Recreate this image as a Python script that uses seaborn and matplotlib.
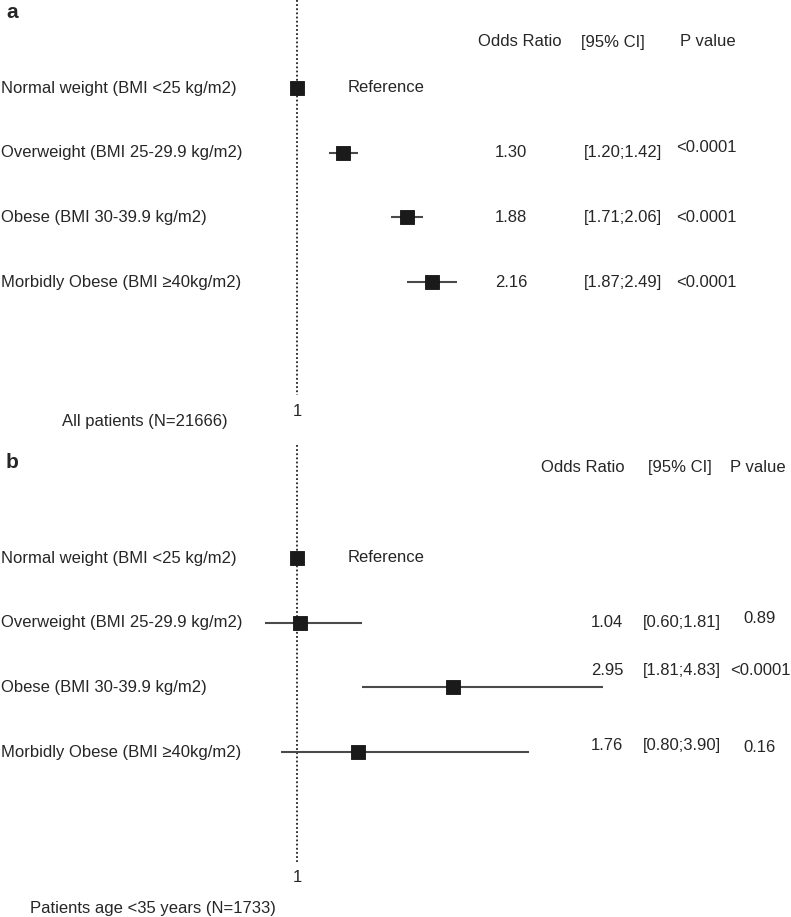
import numpy as np
import pandas as pd
import seaborn as sns
import matplotlib.pyplot as plt

# rows of the forest plot (same for both panels)
categories = [
    "Normal weight (BMI <25 kg/m2)",
    "Overweight (BMI 25-29.9 kg/m2)",
    "Obese (BMI 30-39.9 kg/m2)",
    "Morbidly Obese (BMI \u226540kg/m2)",
]

# panel a: all patients
or_a = [1.00, 1.30, 1.88, 2.16]
lo_a = [1.00, 1.20, 1.71, 1.87]
hi_a = [1.00, 1.42, 2.06, 2.49]
p_a = ["", "<0.0001", "<0.0001", "<0.0001"]
title_a = "All patients (N=21666)"

# panel b: patients younger than 35
or_b = [1.00, 1.04, 2.95, 1.76]
lo_b = [1.00, 0.60, 1.81, 0.80]
hi_b = [1.00, 1.81, 4.83, 3.90]
p_b = ["", "0.89", "<0.0001", "0.16"]
title_b = "Patients age <35 years (N=1733)"

sns.set_theme(style="white")
plt.rcParams["font.family"] = ["Liberation Sans", "DejaVu Sans"]

W, H = 791, 917
fig = plt.figure(figsize=(W / 100, H / 100), dpi=100)
PX1 = 297  # pixel column of OR = 1
FS = 12


def draw_panel(ax, letter, ors, los, his, pvals, footer, scale, k, row0_px, top_px,
               bot_px, letter_px, head_dy, col_x, txt_dy, p_dy, line_end, foot_x,
               foot_gap):
    step = 64.7
    to_row = lambda px: (px - row0_px) / step
    fx = lambda px: px / W
    if scale == "log":
        ax.set_xscale("log")
        xlim = (np.exp(-PX1 / k), np.exp((W - PX1) / k))
    else:
        xlim = (1 - PX1 / k, 1 + (W - PX1) / k)
    ylim = (to_row(bot_px), to_row(top_px))
    tr = ax.get_yaxis_transform()

    df = pd.DataFrame({"label": categories, "OR": ors, "lo": los, "hi": his,
                       "row": np.arange(len(categories))})

    ax.vlines(1, to_row(top_px), to_row(line_end), color="#222222",
              linestyle=(0, (1, 1.3)), lw=1.3, zorder=1)
    ax.hlines(df["row"], df["lo"], df["hi"], color="#4a4a4a", lw=1.5, zorder=2)
    sns.scatterplot(data=df, x="OR", y="row", marker="s", s=95, color="#1a1a1a",
                    edgecolor="#111111", linewidth=0.6, zorder=3, ax=ax, legend=False)
    ax.set_xlim(*xlim)
    ax.set_ylim(*ylim)
    ax.axis("off")

    ax.text(fx(6), to_row(letter_px), letter, transform=tr, fontsize=15,
            fontweight="bold", ha="left", va="center")
    for i, lab in enumerate(categories):
        ax.text(fx(1), i, lab, transform=tr, fontsize=FS, ha="left", va="center")
    ax.text(fx(348), 0, "Reference", transform=tr, fontsize=FS, ha="left", va="center")

    hy = to_row(row0_px + head_dy)
    for x, h in zip(col_x[:3], ["Odds Ratio", "[95% CI]", "P value"]):
        ax.text(fx(x), hy, h, transform=tr, fontsize=FS, ha="center", va="center")
    for i in range(1, len(ors)):
        y = i + txt_dy[i] / step
        ax.text(fx(col_x[3]), y, f"{ors[i]:.2f}", transform=tr, fontsize=FS,
                ha="center", va="center")
        ax.text(fx(col_x[4]), y, f"[{los[i]:.2f};{his[i]:.2f}]", transform=tr,
                fontsize=FS, ha="center", va="center")
        ax.text(fx(col_x[5]), y + p_dy[i] / step, pvals[i], transform=tr,
                fontsize=FS, ha="center", va="center")

    ax.text(1, to_row(line_end + 16), "1", fontsize=FS, ha="center", va="center")
    ax.text(fx(foot_x), to_row(line_end + 16 + foot_gap), footer, transform=tr,
            fontsize=FS, ha="left", va="center")


ax_a = fig.add_axes([0, 1 - 440 / H, 1, 440 / H])
draw_panel(ax_a, "a", or_a, lo_a, hi_a, p_a, title_a, scale="log", k=175,
           row0_px=88, top_px=0, bot_px=440, letter_px=13, head_dy=-46,
           col_x=[520, 613, 708, 511, 623, 706], txt_dy=[0, 0, 0, 0],
           p_dy=[0, -5, 0, 0], line_end=395, foot_x=62, foot_gap=10)

ax_b = fig.add_axes([0, 0, 1, 472 / H])
draw_panel(ax_b, "b", or_b, lo_b, hi_b, p_b, title_b, scale="linear", k=80,
           row0_px=558, top_px=445, bot_px=917, letter_px=463, head_dy=-90,
           col_x=[583, 680, 758, 607, 682, 760], txt_dy=[0, 0, -17, -7],
           p_dy=[0, -4, 0, 2], line_end=862, foot_x=30, foot_gap=30)

fig.savefig("out.png", dpi=100)
